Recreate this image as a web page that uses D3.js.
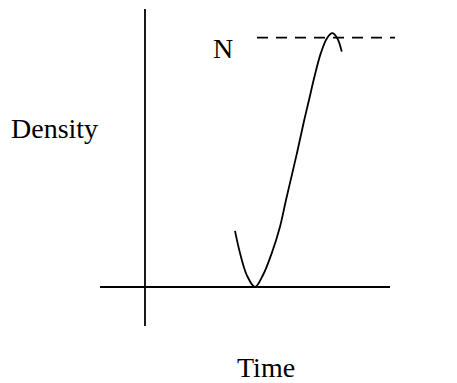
<!DOCTYPE html>
<html>
<head>
<meta charset="utf-8">
<script src="https://cdn.jsdelivr.net/npm/d3@7"></script>
<style>
  body { margin: 0; background: #fff; }
  svg text { font-family: "Liberation Serif", "Times New Roman", serif; font-size: 28px; fill: #000; }
</style>
</head>
<body>
<svg id="chart"></svg>
<script>
// density curve (time, density in arbitrary units, N = 100)
const timeValues    = [36.0, 38.0, 40.7, 44.0, 47.2, 50.7, 54.0, 56.4, 60.6, 63.7, 65.6, 67.8, 70.3, 72.8, 74.9, 76.9, 78.7];
const densityValues = [22.5, 13.6, 4.8, 0, 4.8, 13.6, 24.2, 34.9, 52.9, 67.0, 75.0, 84.4, 93.7, 99.8, 101.8, 99.8, 94.4];

// carrying capacity line and axis extents
const capacity = 100;
const capacityLabel = 'N';
const capacitySpan = [44.8, 100];
const timeAxisSpan = [-18, 98];
const densityAxisSpan = [-15.6, 111.5];

const xLabel = 'Time';
const yLabel = 'Density';

const width = 457, height = 383;

const svg = d3.select('#chart')
  .attr('width', width)
  .attr('height', height);

const xScale = d3.scaleLinear().domain([0, 100]).range([145, 395]);
const yScale = d3.scaleLinear().domain([0, 100]).range([287, 37.7]);

// axes as plain crossing lines
svg.append('line')
  .attr('x1', xScale(timeAxisSpan[0]))
  .attr('x2', xScale(timeAxisSpan[1]))
  .attr('y1', yScale(0))
  .attr('y2', yScale(0))
  .attr('stroke', '#000')
  .attr('stroke-width', 1.8);

svg.append('line')
  .attr('x1', xScale(0))
  .attr('x2', xScale(0))
  .attr('y1', yScale(densityAxisSpan[0]))
  .attr('y2', yScale(densityAxisSpan[1]))
  .attr('stroke', '#000')
  .attr('stroke-width', 1.8);

// dashed carrying capacity
svg.append('line')
  .attr('x1', xScale(capacitySpan[0]))
  .attr('x2', xScale(capacitySpan[1]))
  .attr('y1', yScale(capacity))
  .attr('y2', yScale(capacity))
  .attr('stroke', '#000')
  .attr('stroke-width', 1.8)
  .attr('stroke-dasharray', '11,8');

const data = timeValues.map((t, i) => ({t: t, d: densityValues[i]}));

const line = d3.line()
  .x(d => xScale(d.t))
  .y(d => yScale(d.d))
  .curve(d3.curveCatmullRom.alpha(0.5));

svg.append('path')
  .datum(data)
  .attr('d', line)
  .attr('fill', 'none')
  .attr('stroke', '#000')
  .attr('stroke-width', 1.8);

// labels
svg.append('text')
  .attr('x', 213)
  .attr('y', 58)
  .text(capacityLabel);

svg.append('text')
  .attr('x', 11)
  .attr('y', 138)
  .text(yLabel);

svg.append('text')
  .attr('x', 237)
  .attr('y', 377)
  .text(xLabel);
</script>
</body>
</html>
